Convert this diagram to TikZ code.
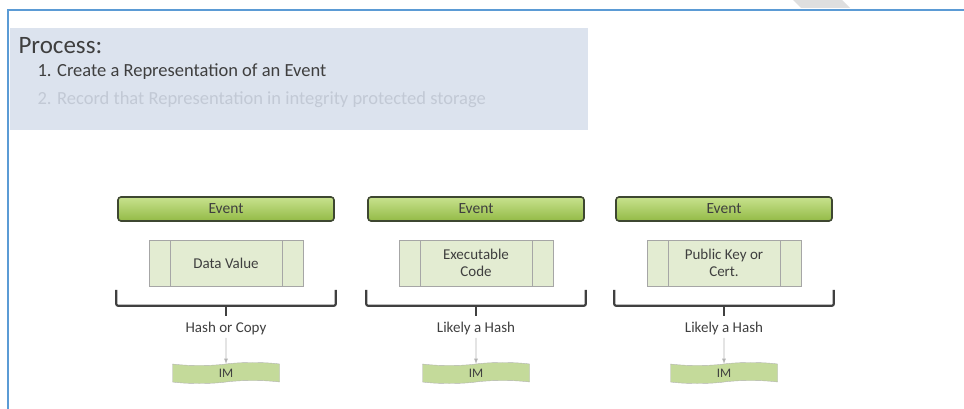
\documentclass[tikz,border=0pt]{standalone}
\usepackage{fontspec}
\setmainfont{Carlito}
\usetikzlibrary{shapes.symbols}
\definecolor{framebl}{HTML}{5B9BD5}
\definecolor{panelbl}{HTML}{DCE3EE}
\definecolor{evtop}{HTML}{C8E28E}
\definecolor{evbot}{HTML}{93BA46}
\definecolor{evline}{HTML}{3E4731}
\definecolor{repfill}{HTML}{E3ECD2}
\definecolor{imfill}{HTML}{C4DA9A}
\definecolor{txtgray}{HTML}{3F3F3F}
\definecolor{fadetxt}{HTML}{C2C9D5}
\tikzset{
  evbar/.style={rounded corners=3pt, draw=evline, line width=1.6pt,
    top color=evtop, bottom color=evbot, minimum width=216pt,
    minimum height=24pt, font=\fontsize{15.5}{18}\selectfont, text=txtgray},
  repbox/.style={draw=gray!70, fill=repfill, minimum width=154pt,
    minimum height=46pt, align=center, font=\fontsize{15}{17}\selectfont, text=txtgray,
    path picture={
      \draw[gray!70] ([xshift=21pt]path picture bounding box.north west)
        -- ([xshift=21pt]path picture bounding box.south west);
      \draw[gray!70] ([xshift=-21pt]path picture bounding box.north east)
        -- ([xshift=-21pt]path picture bounding box.south east);}},
  imbox/.style={tape, tape bend height=3pt, draw=gray!60, fill=imfill,
    minimum width=107pt, minimum height=20pt, font=\fontsize{13}{15}\selectfont, text=txtgray},
  howlbl/.style={font=\fontsize{15}{17}\selectfont, text=txtgray},
  brace/.style={draw=black!75, line width=2.2pt, rounded corners=2pt}
}
\begin{document}
\begin{tikzpicture}[x=1pt, y=-1pt]
  \useasboundingbox (0,0) rectangle (964,409);
  % page frame
  \fill[gray!25] (793,0) -- (842,0) -- (850,8) -- (801,8) -- cycle;
  \draw[framebl, line width=2pt] (964,10) -- (8,10) -- (8,409);
  % title panel
  \fill[panelbl] (10,28) rectangle (588,130);
  \node[anchor=west, font=\fontsize{25}{28}\selectfont, text=txtgray] (title) at (15,46) {Process:};
  \node[anchor=west, font=\fontsize{18.5}{21}\selectfont, text=txtgray] (step1) at (34,72)
    {1. Create a Representation\ of an Event};
  \node[anchor=west, font=\fontsize{18.5}{21}\selectfont, text=fadetxt] (step2) at (34,100)
    {2. Record that Representation\ in integrity protected storage};
  % three event columns
  \foreach \cx/\rep/\how [count=\k] in {226/{Data Value}/{Hash or Copy},
      476/{Executable\\Code}/{Likely a Hash}, 724/{Public Key or\\Cert.}/{Likely a Hash}} {
    \node[evbar] (ev\k) at (\cx,209) {Event};
    \node[repbox] (rep\k) at (\cx,263) {\rep};
    \draw[brace] ([xshift=-1pt,yshift=-68pt]ev\k.south west) |- ([yshift=-84pt]ev\k.south)
      -| ([xshift=1pt,yshift=-68pt]ev\k.south east);
    \draw[brace] ([yshift=-84pt]ev\k.south) -- ++(0,10) coordinate (tip\k);
    \node[howlbl] (how\k) at (\cx,328) {\how};
    \node[imbox] (im\k) at (\cx,373) {IM};
    \draw[gray!60, line width=0.8pt, -latex] (how\k) -- (im\k);
  }
\end{tikzpicture}
\end{document}
